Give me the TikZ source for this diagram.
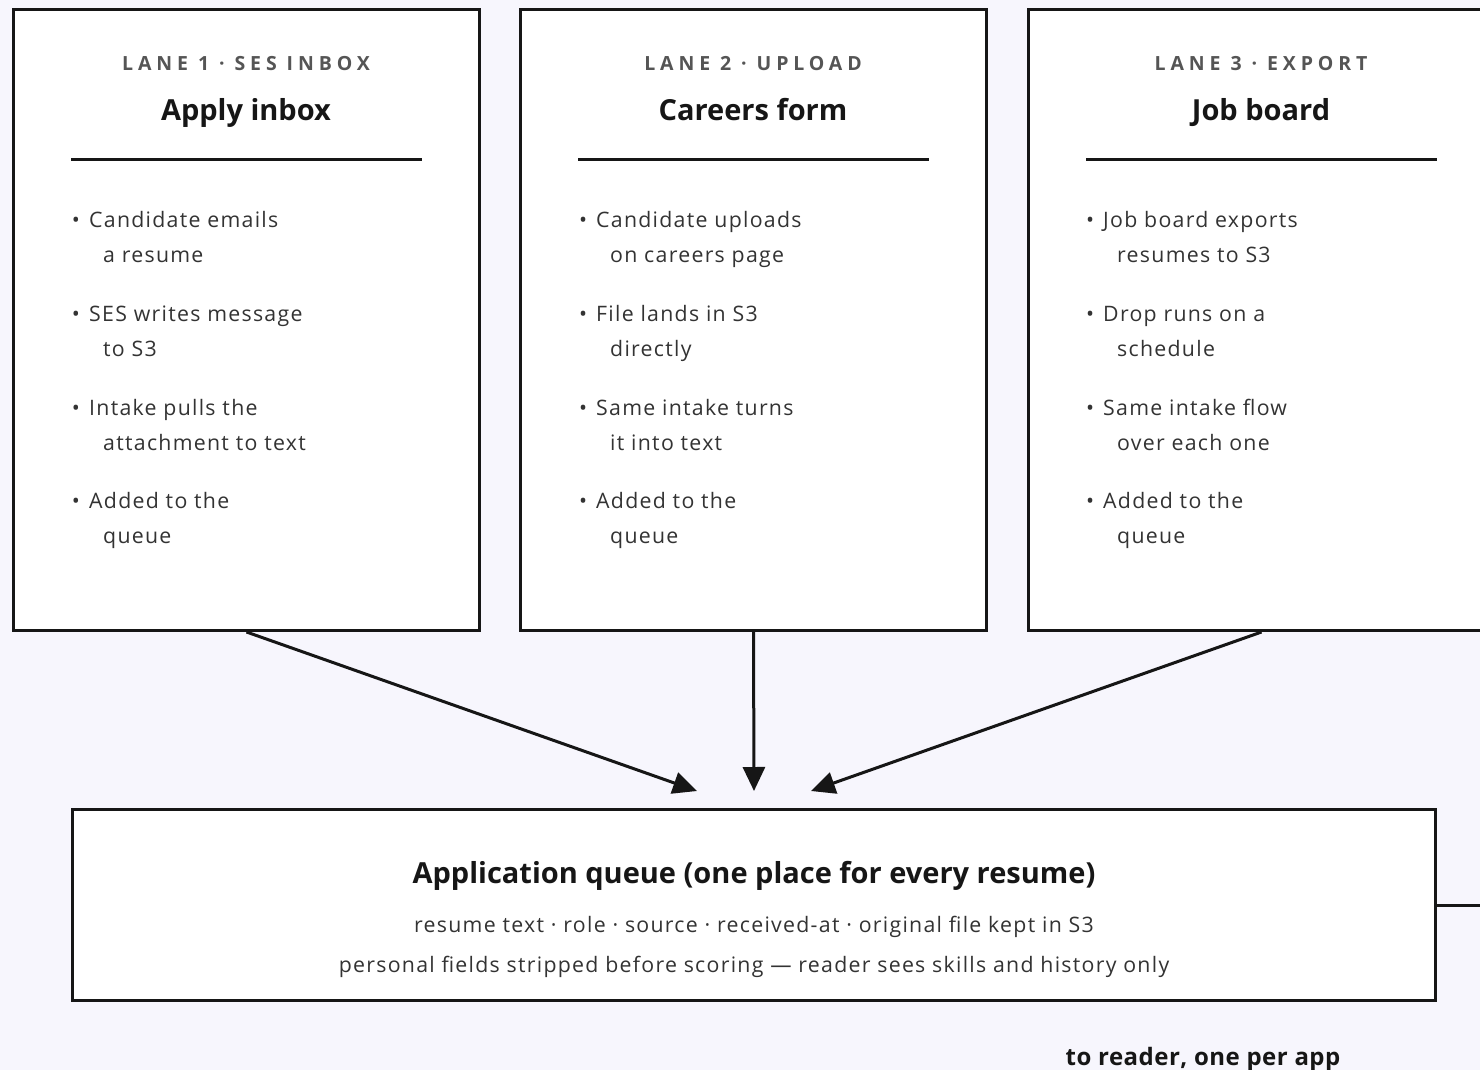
\documentclass[tikz,border=0pt]{standalone}
\usepackage{fontspec}
\setmainfont{Open Sans}
\usetikzlibrary{arrows.meta}

\definecolor{pagebg}{HTML}{F7F6FD}
\definecolor{ink}{HTML}{161616}
\definecolor{bodytext}{HTML}{333333}
\definecolor{kicker}{HTML}{555555}

% place one two-line bullet item: #1 name, #2 x of bullet, #3 baseline y, #4 first line, #5 second line
\newcommand\laneitem[5]{%
  \node[itemtext, anchor=base] (#1d) at (#2+3,#3) {\textbullet};
  \node[itemtext, anchor=base west] (#1a) at (#2+16,#3) {#4};
  \node[itemtext, anchor=base west] (#1b) at (#2+30,#3+35) {#5};
}

\begin{document}
\begin{tikzpicture}[x=1pt, y=-1pt,
  lanebox/.style={draw=ink, line width=3pt, fill=white, minimum width=466pt,
    minimum height=621pt, inner sep=0pt},
  queuebox/.style={draw=ink, line width=3pt, fill=white, minimum width=1363pt,
    minimum height=191pt, inner sep=0pt},
  kickertext/.style={font=\fontsize{19.5}{22}\selectfont\bfseries\addfontfeature{LetterSpace=25},
    text=kicker, inner sep=0pt},
  titletext/.style={font=\fontsize{29}{34}\selectfont\bfseries, text=ink, inner sep=0pt},
  itemtext/.style={font=\fontsize{21.3}{25}\selectfont\addfontfeature{LetterSpace=6}, text=bodytext, inner sep=0pt},
  subtext/.style={font=\fontsize{21.3}{25}\selectfont\addfontfeature{LetterSpace=6}, text=bodytext, inner sep=0pt},
  rulestroke/.style={draw=ink, line width=3pt},
  flow/.style={draw=ink, line width=3pt, -{Triangle[length=24pt, width=22pt]}},
]
\useasboundingbox (0,0) rectangle (1480,1070);
\clip (0,0) rectangle (1480,1070);
\fill[pagebg] (0,0) rectangle (1480,1070);

% ---- three intake lanes ----
\node[lanebox] (lane1) at (246.5,320) {};
\node[lanebox] (lane2) at (753.5,320) {};
\node[lanebox] (lane3) at (1261.5,320) {};

% lane 1
\node[kickertext, anchor=base] (k1) at (246,71) {LANE 1 · SES INBOX};
\node[titletext, anchor=base] (t1) at (246,121) {Apply inbox};
\draw[rulestroke] (71,159) -- (422,159);
\laneitem{l1i1}{73}{227}{Candidate emails}{a resume}
\laneitem{l1i2}{73}{321}{SES writes message}{to S3}
\laneitem{l1i3}{73}{415}{Intake pulls the}{attachment to text}
\laneitem{l1i4}{73}{508}{Added to the}{queue}

% lane 2
\node[kickertext, anchor=base] (k2) at (753,71) {LANE 2 · UPLOAD};
\node[titletext, anchor=base] (t2) at (753,121) {Careers form};
\draw[rulestroke] (578,159) -- (929,159);
\laneitem{l2i1}{580}{227}{Candidate uploads}{on careers page}
\laneitem{l2i2}{580}{321}{File lands in S3}{directly}
\laneitem{l2i3}{580}{415}{Same intake turns}{it into text}
\laneitem{l2i4}{580}{508}{Added to the}{queue}

% lane 3
\node[kickertext, anchor=base] (k3) at (1261,71) {LANE 3 · EXPORT};
\node[titletext, anchor=base] (t3) at (1261,121) {Job board};
\draw[rulestroke] (1086,159) -- (1437,159);
\laneitem{l3i1}{1087}{227}{Job board exports}{resumes to S3}
\laneitem{l3i2}{1087}{321}{Drop runs on a}{schedule}
\laneitem{l3i3}{1087}{415}{Same intake flow}{over each one}
\laneitem{l3i4}{1087}{508}{Added to the}{queue}

% ---- shared application queue ----
\node[queuebox] (queue) at (754,905) {};
\node[titletext, anchor=base] (qt) at (754,883) {Application queue (one place for every resume)};
\node[subtext, anchor=base] (qs1) at (754,932) {resume text · role · source · received-at · original file kept in S3};
\node[subtext, anchor=base] (qs2) at (754,972) {personal fields stripped before scoring — reader sees skills and history only};

% arrow landing points just above the queue
\coordinate (in1) at ([xshift=-57pt, yshift=17pt]queue.north);
\coordinate (in2) at ([yshift=17pt]queue.north);
\coordinate (in3) at ([xshift=57pt, yshift=17pt]queue.north);

\draw[flow] (lane1.south) -- (in1);
\draw[flow] (lane2.south) -- (in2);
\draw[flow] (lane3.south) -- (in3);

% hand-off to the reader
\coordinate (out) at (1480,905);
\draw[rulestroke] (queue.east) -- (out);
\node[font=\fontsize{24}{27}\selectfont\bfseries\addfontfeature{LetterSpace=2}, text=ink, inner sep=0pt, anchor=base] (handoff)
  at (1203,1065) {to reader, one per app};
\end{tikzpicture}
\end{document}
